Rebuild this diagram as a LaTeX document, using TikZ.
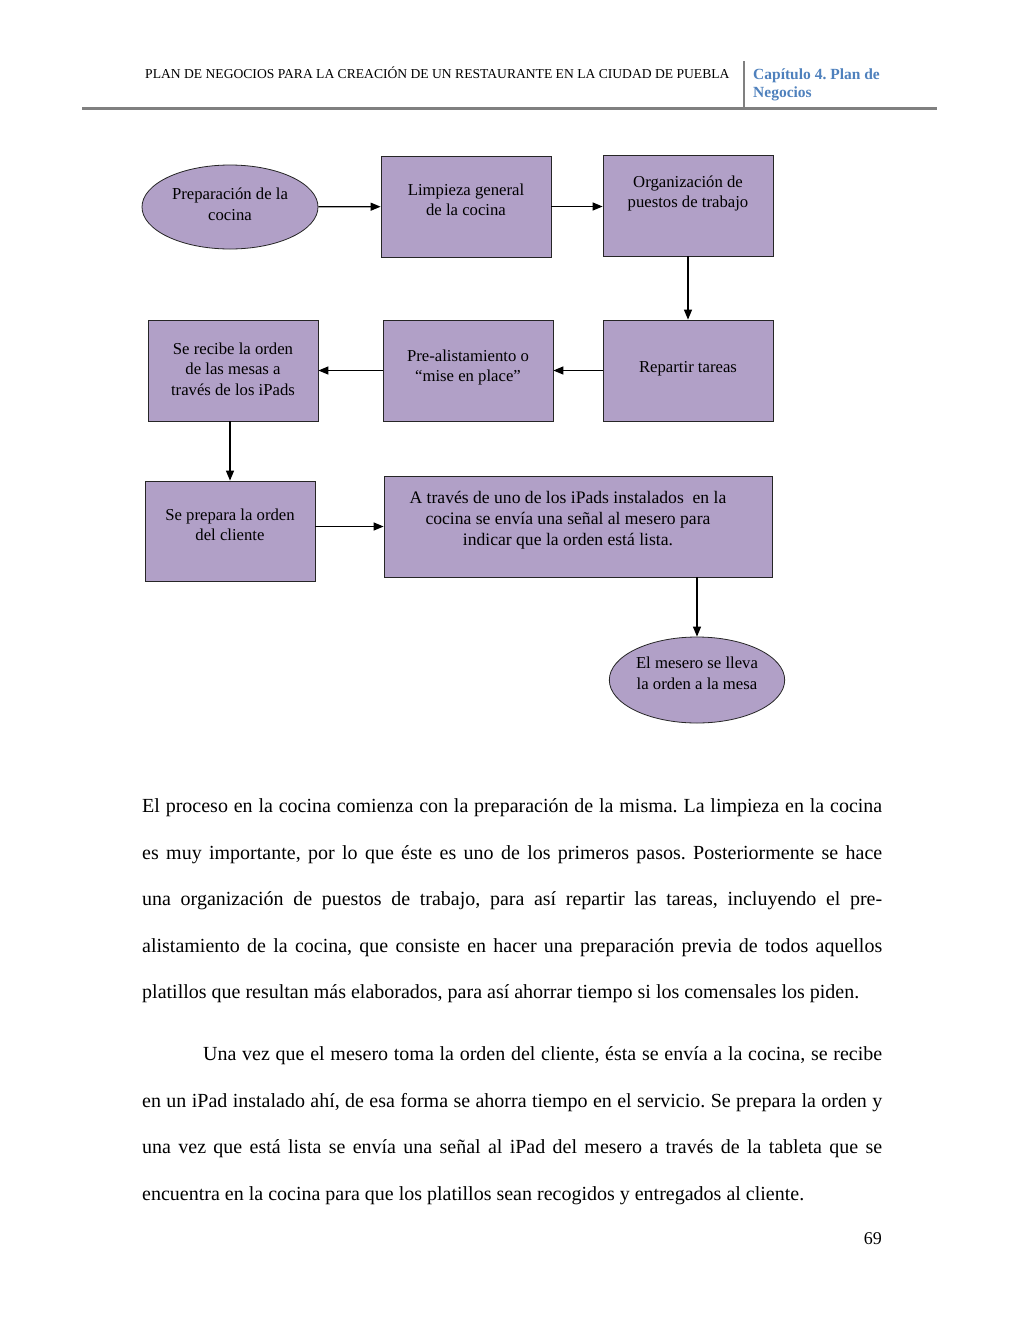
\documentclass[tikz,border=0pt]{standalone}
\usepackage{fontspec}
\setmainfont{Liberation Serif}
\usetikzlibrary{arrows.meta,shapes.geometric}
\definecolor{lila}{RGB}{177,160,199}
\definecolor{azulcap}{RGB}{79,129,189}
\definecolor{gris}{RGB}{128,128,128}
% texto de una caja: alto, ancho, espacio arriba, texto
\newcommand{\bloque}[4]{\parbox[c][#1][t]{#2}{\centering\vspace*{#3}#4\par}}
\tikzset{
  paso/.style={draw=black!85, fill=lila, line width=0.8pt, inner sep=0pt,
    font=\fontsize{16.7}{20.6}\selectfont},
  extremo/.style={paso, ellipse},
  flecha/.style={line width=1.3pt, -{Triangle[length=10pt,width=8pt]}}
}
\frenchspacing
\begin{document}
\begin{tikzpicture}[x=1pt,y=-1pt]
\useasboundingbox[fill=white] (0,0) rectangle (1024,1326);
% encabezado
\node[anchor=base west, inner sep=0pt, font=\fontsize{13.6}{16}\selectfont] (titulo) at (145,78)
  {PLAN DE NEGOCIOS PARA LA CREACIÓN DE UN RESTAURANTE EN LA CIUDAD DE PUEBLA};
\node[anchor=base west, inner sep=0pt, align=left, text=azulcap,
  font=\fontsize{15.5}{18}\selectfont\bfseries] (capitulo) at (753,97) {Capítulo 4. Plan de\\Negocios};
\draw[gris, line width=3pt] (82,108) -- (937,108);
\draw[gris, line width=2pt] (744,61) -- (744,107);

% diagrama
\node[extremo, minimum width=176pt, minimum height=84pt] (prep) at (230,207)
  {\bloque{56pt}{124pt}{9pt}{Preparación de la\\cocina}};
\node[paso] (limp) at (466,206.5) {\bloque{101pt}{170pt}{27.5pt}{Limpieza general\\de la cocina}};
\node[paso] (org) at (688,205.5) {\bloque{101pt}{170pt}{20.5pt}{Organización de\\puestos de trabajo}};
\node[paso] (rep) at (688,370.5) {\bloque{101pt}{170pt}{41pt}{Repartir tareas}};
\node[paso] (pre) at (468,370.5) {\bloque{101pt}{170pt}{29.5pt}{Pre-alistamiento o\\“mise en place”}};
\node[paso] (recibe) at (233,370.5)
  {\bloque{101pt}{170pt}{22.5pt}{Se recibe la orden\\de las mesas a\\través de los iPads}};
\node[paso] (prepara) at (230,531) {\bloque{100pt}{170pt}{27.5pt}{Se prepara la orden\\del cliente}};
\node[paso, font=\fontsize{17.6}{21}\selectfont] (avisa) at (578,526.5)
  {\bloque{101pt}{368pt}{15pt}{A través de uno de los iPads instalados\ \ en la\\cocina se envía una señal al mesero para\\indicar que la orden está lista.}\kern20pt};
\node[extremo, minimum width=172pt, minimum height=86pt] (mesero) at (697,680)
  {\bloque{56pt}{124pt}{5pt}{El mesero se lleva\\la orden a la mesa}};

\draw[flecha] (prep) -- (limp);
\draw[flecha] (limp.east) -- (limp.east -| org.west);
\draw[flecha] (org) -- (rep);
\draw[flecha] (rep.west) -- (rep.west -| pre.east);
\draw[flecha] (pre.west) -- (pre.west -| recibe.east);
\draw[flecha] (prepara.north |- recibe.south) -- (prepara.north);
\draw[flecha] (avisa.west -| prepara.east) -- (avisa.west);
\draw[flecha] (mesero.north |- avisa.south) -- (mesero.north);

% texto de la pagina
\node[anchor=base west, inner sep=0pt, text width=740pt, align=justify,
  font=\fontsize{20}{46.5}\selectfont] (texto) at (142,812.5)
  {\tolerance=9999\relax\noindent El proceso en la cocina comienza con la preparación de la misma. La limpieza en la cocina\linebreak
  es muy importante, por lo que éste es uno de los primeros pasos. Posteriormente se hace\linebreak
  una organización de puestos de trabajo, para así repartir las tareas, incluyendo el pre-\linebreak
  alistamiento de la cocina, que consiste en hacer una preparación previa de todos aquellos\linebreak
  platillos que resultan más elaborados, para así ahorrar tiempo si los comensales los piden.\par
  \vspace{15.5pt}\noindent\hspace*{61pt}Una vez que el mesero toma la orden del cliente, ésta se envía a la cocina, se recibe\linebreak
  en un iPad instalado ahí, de esa forma se ahorra tiempo en el servicio. Se prepara la orden y\linebreak
  una vez que está lista se envía una señal al iPad del mesero a través de la tableta que se\linebreak
  encuentra en la cocina para que los platillos sean recogidos y entregados al cliente.};
\node[anchor=base east, inner sep=0pt, font=\fontsize{18}{20}\selectfont] (pagina) at (882,1244) {69};
\end{tikzpicture}
\end{document}
